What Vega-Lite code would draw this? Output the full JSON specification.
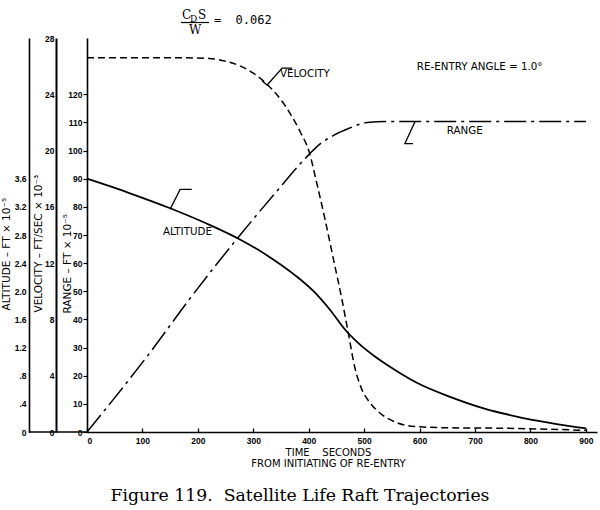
{
  "$schema": "https://vega.github.io/schema/vega-lite/v6.json",
  "width": 510,
  "height": 394,
  "autosize": {"type": "none"},
  "padding": {"left": 87, "top": 38, "right": 3, "bottom": 78},
  "background": "white",
  "title": {
    "text": "Figure 119.\u00a0\u00a0Satellite Life Raft Trajectories",
    "orient": "bottom",
    "anchor": "middle",
    "frame": "group",
    "dx": -42,
    "offset": 18,
    "font": "DejaVu Serif",
    "fontSize": 17.3,
    "fontWeight": "normal",
    "color": "black"
  },
  "datasets": {
    "altitude": [
      {"t": 0, "alt": 3.6}, {"t": 75, "alt": 3.4}, {"t": 150, "alt": 3.18},
      {"t": 225, "alt": 2.93}, {"t": 275, "alt": 2.74}, {"t": 325, "alt": 2.51},
      {"t": 375, "alt": 2.23}, {"t": 410, "alt": 1.99}, {"t": 440, "alt": 1.72},
      {"t": 465, "alt": 1.46}, {"t": 490, "alt": 1.26}, {"t": 520, "alt": 1.07},
      {"t": 550, "alt": 0.91}, {"t": 595, "alt": 0.7}, {"t": 655, "alt": 0.5},
      {"t": 714, "alt": 0.34}, {"t": 775, "alt": 0.22}, {"t": 835, "alt": 0.13},
      {"t": 900, "alt": 0.05}
    ],
    "velocity": [
      {"t": 0, "vel": 26.6}, {"t": 150, "vel": 26.6}, {"t": 220, "vel": 26.55},
      {"t": 250, "vel": 26.35}, {"t": 280, "vel": 25.95}, {"t": 300, "vel": 25.5},
      {"t": 325, "vel": 24.7}, {"t": 350, "vel": 23.6}, {"t": 370, "vel": 22.4},
      {"t": 385, "vel": 21.3}, {"t": 400, "vel": 20.0}, {"t": 415, "vel": 17.6},
      {"t": 430, "vel": 15.0}, {"t": 445, "vel": 12.2}, {"t": 460, "vel": 9.4},
      {"t": 472, "vel": 6.9}, {"t": 483, "vel": 4.6}, {"t": 495, "vel": 3.1},
      {"t": 510, "vel": 2.1}, {"t": 530, "vel": 1.3}, {"t": 560, "vel": 0.65},
      {"t": 595, "vel": 0.38}, {"t": 650, "vel": 0.3}, {"t": 745, "vel": 0.27},
      {"t": 830, "vel": 0.2}, {"t": 900, "vel": 0.12}
    ],
    "range": [
      {"t": 0, "rng": 0}, {"t": 114, "rng": 28.3}, {"t": 186, "rng": 47.5},
      {"t": 270, "rng": 68.5}, {"t": 340, "rng": 85}, {"t": 399, "rng": 98.3},
      {"t": 420, "rng": 102.3}, {"t": 444, "rng": 105.3}, {"t": 474, "rng": 108},
      {"t": 505, "rng": 110}, {"t": 540, "rng": 110.3}, {"t": 900, "rng": 110.3}
    ],
    "leaders": [
      {"id": "vel", "k": 1, "t": 316, "r": 124.7},
      {"id": "vel", "k": 2, "t": 325, "r": 123.3},
      {"id": "vel", "k": 3, "t": 352, "r": 129.3},
      {"id": "vel", "k": 4, "t": 370, "r": 129.3},
      {"id": "rng", "k": 1, "t": 591.5, "r": 110.2},
      {"id": "rng", "k": 2, "t": 573.5, "r": 102.5},
      {"id": "rng", "k": 3, "t": 588, "r": 102.5},
      {"id": "alt", "k": 1, "t": 150, "r": 79.2},
      {"id": "alt", "k": 2, "t": 168, "r": 86.2},
      {"id": "alt", "k": 3, "t": 189, "r": 86.2}
    ],
    "notes": [
      {"label": "VELOCITY", "t": 348, "r": 127.2},
      {"label": "RANGE", "t": 649, "r": 107},
      {"label": "ALTITUDE", "t": 137, "r": 71.1},
      {"label": "RE-ENTRY ANGLE = 1.0°", "t": 595, "r": 129.7}
    ],
    "formula": [
      {"part": "C", "t": 171.3, "r": 146.8},
      {"part": "S", "t": 200.2, "r": 146.9},
      {"part": "W", "t": 184, "r": 141.3}
    ],
    "formulaSub": [{"part": "D", "t": 185.8, "r": 145.7}],
    "formulaValue": [{"part": "=\u00a0\u00a00.062", "t": 229, "r": 144.9}],
    "fractionBar": [{"t": 169.5, "t2": 220, "r": 145.5}],
    "baseline": [{"t": -105, "t2": 0, "r": 0}]
  },
  "encoding": {
    "x": {
      "field": "t",
      "type": "quantitative",
      "scale": {"domain": [0, 920], "nice": false},
      "axis": {
        "values": [0, 100, 200, 300, 400, 500, 600, 700, 800, 900],
        "title": ["TIME\u00a0\u00a0\u00a0\u00a0SECONDS", "FROM INITIATING OF RE-ENTRY"],
        "titleFont": "DejaVu Sans",
        "titleFontSize": 10,
        "titleFontWeight": "normal",
        "titleX": 241,
        "titleY": 23,
        "titleAlign": "center",
        "titleBaseline": "alphabetic",
        "titleLineHeight": 11.5,
        "tickSize": -4,
        "tickWidth": 1.3,
        "labelPadding": 8,
        "domainWidth": 1.6
      }
    }
  },
  "layer": [
    {
      "data": {"name": "altitude"},
      "mark": {"type": "line", "color": "black", "strokeWidth": 1.8, "interpolate": "monotone"},
      "encoding": {
        "y": {
          "field": "alt",
          "type": "quantitative",
          "scale": {"domain": [0, 5.6], "nice": false},
          "axis": {
            "orient": "left",
            "offset": 58,
            "values": [0, 0.4, 0.8, 1.2, 1.6, 2, 2.4, 2.8, 3.2, 3.6],
            "labelExpr": "datum.value == 0 ? '0' : datum.value < 1 ? replace(format(datum.value, '.1f'), '0.', '.') : format(datum.value, '.1f')",
            "ticks": false,
            "labelPadding": 3,
            "title": "ALTITUDE – FT × 10⁻⁵",
            "titleX": -23,
            "titleY": 272,
            "titleAngle": -90,
            "titleAlign": "left",
            "titleBaseline": "middle",
            "domainWidth": 1.6
          }
        }
      }
    },
    {
      "data": {"name": "velocity"},
      "mark": {"type": "line", "color": "black", "strokeWidth": 1.5, "strokeDash": [7, 4], "interpolate": "monotone"},
      "encoding": {
        "y": {
          "field": "vel",
          "type": "quantitative",
          "scale": {"domain": [0, 28], "nice": false},
          "axis": {
            "orient": "left",
            "offset": 31,
            "values": [0, 4, 8, 12, 16, 20, 24, 28],
            "ticks": false,
            "labelPadding": 2,
            "title": "VELOCITY – FT/SEC × 10⁻³",
            "titleX": -18,
            "titleY": 274,
            "titleAngle": -90,
            "titleAlign": "left",
            "titleBaseline": "middle",
            "domainWidth": 2
          }
        }
      }
    },
    {
      "data": {"name": "range"},
      "mark": {"type": "line", "color": "black", "strokeWidth": 1.5, "strokeDash": [22, 5, 3, 5], "interpolate": "monotone"},
      "encoding": {
        "y": {
          "field": "rng",
          "type": "quantitative",
          "scale": {"domain": [0, 140], "nice": false},
          "axis": {
            "orient": "left",
            "offset": 0,
            "values": [0, 10, 20, 30, 40, 50, 60, 70, 80, 90, 100, 110, 120],
            "tickSize": 4,
            "tickWidth": 1.2,
            "labelPadding": 1,
            "title": "RANGE – FT × 10⁻⁵",
            "titleX": -20,
            "titleY": 275,
            "titleAngle": -90,
            "titleAlign": "left",
            "titleBaseline": "middle",
            "domainWidth": 1.6
          }
        }
      }
    },
    {
      "data": {"name": "leaders"},
      "mark": {"type": "line", "color": "black", "strokeWidth": 1.3},
      "encoding": {
        "y": {"field": "r", "type": "quantitative", "scale": {"domain": [0, 140]}, "axis": null},
        "detail": {"field": "id"},
        "order": {"field": "k"}
      }
    },
    {
      "data": {"name": "notes"},
      "mark": {"type": "text", "align": "left", "baseline": "middle", "font": "DejaVu Sans", "fontSize": 10.3, "color": "black"},
      "encoding": {
        "y": {"field": "r", "type": "quantitative", "scale": {"domain": [0, 140]}, "axis": null},
        "text": {"field": "label"}
      }
    },
    {
      "data": {"name": "formula"},
      "mark": {"type": "text", "align": "left", "baseline": "alphabetic", "font": "DejaVu Serif", "fontSize": 12, "color": "black"},
      "encoding": {
        "y": {"field": "r", "type": "quantitative", "scale": {"domain": [0, 140]}, "axis": null},
        "text": {"field": "part"}
      }
    },
    {
      "data": {"name": "formulaSub"},
      "mark": {"type": "text", "align": "left", "baseline": "alphabetic", "font": "DejaVu Serif", "fontSize": 9, "color": "black"},
      "encoding": {
        "y": {"field": "r", "type": "quantitative", "scale": {"domain": [0, 140]}, "axis": null},
        "text": {"field": "part"}
      }
    },
    {
      "data": {"name": "formulaValue"},
      "mark": {"type": "text", "align": "left", "baseline": "alphabetic", "font": "DejaVu Sans Mono", "fontSize": 12, "color": "black"},
      "encoding": {
        "y": {"field": "r", "type": "quantitative", "scale": {"domain": [0, 140]}, "axis": null},
        "text": {"field": "part"}
      }
    },
    {
      "data": {"name": "fractionBar"},
      "mark": {"type": "rule", "color": "black", "strokeWidth": 1.2},
      "encoding": {
        "x2": {"field": "t2"},
        "y": {"field": "r", "type": "quantitative", "scale": {"domain": [0, 140]}, "axis": null}
      }
    },
    {
      "data": {"name": "baseline"},
      "mark": {"type": "rule", "color": "black", "strokeWidth": 1.6},
      "encoding": {
        "x2": {"field": "t2"},
        "y": {"field": "r", "type": "quantitative", "scale": {"domain": [0, 140]}, "axis": null}
      }
    }
  ],
  "resolve": {"scale": {"y": "independent"}},
  "config": {
    "view": {"stroke": null},
    "axis": {
      "grid": false,
      "domainColor": "black",
      "tickColor": "black",
      "labelColor": "black",
      "titleColor": "black",
      "labelFont": "Liberation Sans",
      "labelFontSize": 8.5,
      "labelFontWeight": "bold",
      "titleFont": "DejaVu Sans",
      "titleFontSize": 10.5,
      "titleFontWeight": "normal"
    }
  }
}
